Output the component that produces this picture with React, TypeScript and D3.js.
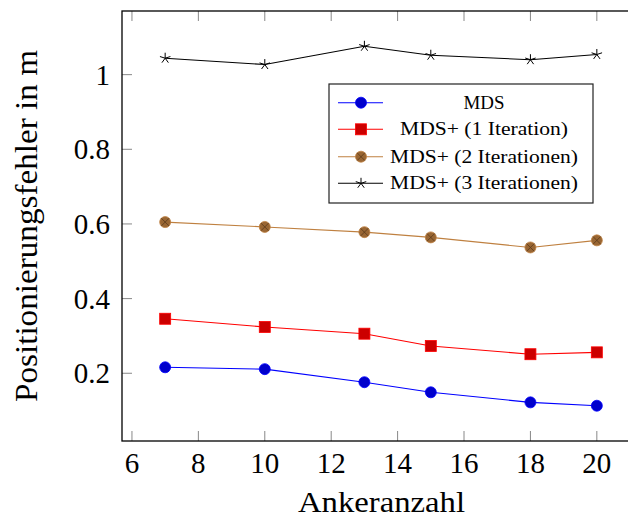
import React from "react";
import * as d3 from "d3";

const anchors = [7, 10, 13, 15, 18, 20];
const mds = [0.216, 0.211, 0.176, 0.149, 0.122, 0.113];
const mds1 = [0.346, 0.324, 0.306, 0.273, 0.251, 0.256];
const mds2 = [0.605, 0.592, 0.578, 0.564, 0.537, 0.556];
const mds3 = [1.044, 1.027, 1.076, 1.052, 1.040, 1.054];
const seriesNames = ["MDS", "MDS+ (1 Iteration)", "MDS+ (2 Iterationen)", "MDS+ (3 Iterationen)"];
const xTicks = [6, 8, 10, 12, 14, 16, 18, 20];
const yTicks = [0.2, 0.4, 0.6, 0.8, 1];

const W = 628, H = 518;
const L = 122, R = 640, T = 11, B = 441;
const FONT = "'Liberation Serif', serif";

const series = [
  { name: seriesNames[0], values: mds, stroke: "#0000ff", fill: "#0000cc", mark: "circle", tl: 41 },
  { name: seriesNames[1], values: mds1, stroke: "#ff0000", fill: "#cc0000", mark: "square", tl: 168 },
  { name: seriesNames[2], values: mds2, stroke: "#bf8040", fill: "#996633", mark: "otimes", tl: 188 },
  { name: seriesNames[3], values: mds3, stroke: "#000000", fill: "#000000", mark: "star", tl: 188 },
];

function Marker({ kind, x, y, stroke, fill }: any) {
  if (kind === "circle") return <circle cx={x} cy={y} r={5.5} fill={fill} stroke={stroke} strokeWidth={0.8} />;
  if (kind === "square") return <rect x={x - 5.5} y={y - 5.5} width={11} height={11} fill={fill} stroke={stroke} strokeWidth={0.8} />;
  if (kind === "otimes") {
    const d = 5.5 * Math.SQRT1_2;
    return (
      <g>
        <circle cx={x} cy={y} r={5.5} fill={fill} stroke={stroke} strokeWidth={0.8} />
        <path d={`M${x - d},${y - d}L${x + d},${y + d}M${x - d},${y + d}L${x + d},${y - d}`} stroke="#5a3a1a" strokeWidth={0.8} />
      </g>
    );
  }
  const r = 5.5;
  const p = d3.range(5).map((i) => {
    const a = (-90 + i * 72) * Math.PI / 180;
    return `M${x},${y}L${x + r * Math.cos(a)},${y + r * Math.sin(a)}`;
  }).join("");
  return <path d={p} stroke={stroke} strokeWidth={1} fill="none" />;
}

export default function App() {
  const x = d3.scaleLinear().domain([5.7, 21.3]).range([L, R]);
  const y = d3.scaleLinear().domain([0.0185, 1.1705]).range([B, T]);
  const line = d3.line<number>().x((_, i) => x(anchors[i])).y((d) => y(d));
  const legX = 329, legY = 84, legW = 264, legH = 119;
  const rowY = [102.7, 129.3, 156.7, 183.3];
  return (
    <svg width={W} height={H} style={{ position: "absolute", left: 0, top: 0, background: "#fff" }} fontFamily={FONT}>
      {xTicks.map((t) => (
        <g key={"x" + t} stroke="#888" strokeWidth={1}>
          <line x1={x(t)} x2={x(t)} y1={B} y2={B - 10} />
          <line x1={x(t)} x2={x(t)} y1={T} y2={T + 10} />
        </g>
      ))}
      {yTicks.map((t) => (
        <g key={"y" + t} stroke="#888" strokeWidth={1}>
          <line x1={L} x2={L + 10} y1={y(t)} y2={y(t)} />
          <line x1={R} x2={R - 10} y1={y(t)} y2={y(t)} />
        </g>
      ))}
      {series.map((s) => (
        <g key={s.name}>
          <path d={line(s.values) || ""} fill="none" stroke={s.stroke} strokeWidth={1.1} />
          {s.values.map((v, i) => (
            <Marker key={i} kind={s.mark} x={x(anchors[i])} y={y(v)} stroke={s.stroke} fill={s.fill} />
          ))}
        </g>
      ))}
      <rect x={L} y={T} width={R - L} height={B - T} fill="none" stroke="#000" strokeWidth={1.3} />
      {xTicks.map((t) => (
        <text key={"xl" + t} x={x(t)} y={473} textAnchor="middle" fontSize={29}>{t}</text>
      ))}
      {yTicks.map((t) => (
        <text key={"yl" + t} x={110} y={y(t) + 10} textAnchor="end" fontSize={29}>{d3.format("~g")(t)}</text>
      ))}
      <text x={381.5} y={511.5} textAnchor="middle" fontSize={30} textLength={167} lengthAdjust="spacingAndGlyphs">Ankeranzahl</text>
      <text transform={`translate(37,226) rotate(-90)`} textAnchor="middle" fontSize={31} textLength={352} lengthAdjust="spacingAndGlyphs">Positionierungsfehler in m</text>
      <rect x={legX} y={legY} width={legW} height={legH} fill="#fff" stroke="#222" strokeWidth={1.2} />
      {series.map((s, i) => (
        <g key={"leg" + i}>
          <line x1={338} x2={383} y1={rowY[i]} y2={rowY[i]} stroke={s.stroke} strokeWidth={1.1} />
          <Marker kind={s.mark} x={361} y={rowY[i]} stroke={s.stroke} fill={s.fill} />
          <text x={484} y={rowY[i] + 6} textAnchor="middle" fontSize={18} textLength={s.tl} lengthAdjust="spacingAndGlyphs">{s.name}</text>
        </g>
      ))}
    </svg>
  );
}
